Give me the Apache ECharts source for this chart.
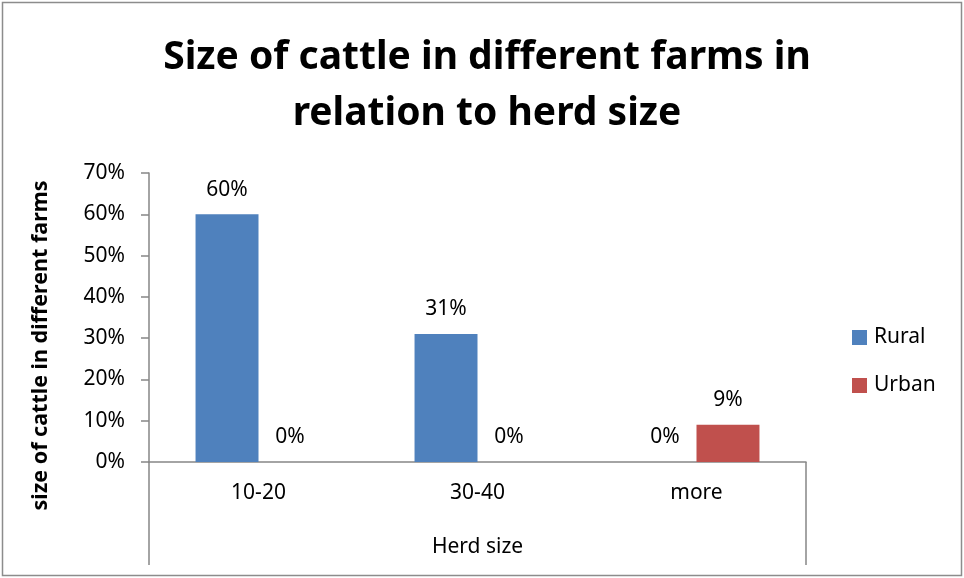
<!DOCTYPE html>
<html>
<head>
<meta charset="utf-8">
<script src="https://cdn.jsdelivr.net/npm/echarts@6/dist/echarts.min.js"></script>
<style>
  html, body { margin: 0; padding: 0; background: #fff; }
  #chart { width: 964px; height: 578px; }
</style>
</head>
<body>
<div id="chart"></div>
<script>
// Herd size groups and the share of cattle in each, by farm location
const categories = ['10-20', '30-40', 'more'];
const rural = [60, 31, 0];
const urban = [0, 0, 9];
const yTicks = { min: 0, max: 70, interval: 10 };

const FONT = '"Noto Sans", "Open Sans", sans-serif';
const AXIS_GREY = '#868686';

const chart = echarts.init(document.getElementById('chart'), null, { renderer: 'canvas' });

const gridLeft = 149, gridRight = 158, gridTop = 173, gridBottom = 116;
const plotRight = 964 - gridRight;
const plotBottom = 578 - gridBottom;

const labelStyle = {
  show: true,
  position: 'top',
  distance: 14,
  formatter: p => p.value + '%',
  color: '#000',
  fontFamily: FONT,
  fontSize: 21
};

chart.setOption({
  backgroundColor: '#fff',
  animation: false,
  title: {
    text: 'Size of cattle in different farms in\nrelation to herd size',
    left: 482,
    textAlign: 'center',
    top: 25,
    textStyle: {
      fontFamily: FONT,
      fontWeight: 'bold',
      fontSize: 39,
      lineHeight: 56,
      color: '#000'
    }
  },
  legend: {
    orient: 'vertical',
    left: 847,
    top: 322,
    itemWidth: 15,
    itemHeight: 15,
    itemGap: 27,
    icon: 'rect',
    textStyle: { fontFamily: FONT, fontSize: 21, color: '#000', padding: [0, 0, 0, 2] },
    data: ['Rural', 'Urban']
  },
  grid: { left: gridLeft, right: gridRight, top: gridTop, bottom: gridBottom, containLabel: false },
  xAxis: {
    type: 'category',
    data: categories,
    name: 'Herd size',
    nameLocation: 'middle',
    nameGap: 75,
    nameTextStyle: { fontFamily: FONT, fontSize: 21, color: '#000' },
    axisLine: { lineStyle: { color: AXIS_GREY, width: 1.5 } },
    axisTick: { show: false },
    axisLabel: { fontFamily: FONT, fontSize: 21, color: '#000', margin: 21 }
  },
  yAxis: {
    type: 'value',
    min: yTicks.min,
    max: yTicks.max,
    interval: yTicks.interval,
    name: 'size of cattle in different farms',
    nameLocation: 'middle',
    nameGap: 97,
    nameRotate: 90,
    nameTextStyle: {
      fontFamily: FONT, fontSize: 21.5, fontWeight: 'bold', color: '#000',
      padding: [0, 56, 0, 0]
    },
    axisLine: { show: true, lineStyle: { color: AXIS_GREY, width: 1.5 } },
    axisTick: { show: true, length: 8, lineStyle: { color: AXIS_GREY, width: 1.5 } },
    splitLine: { show: false },
    axisLabel: {
      fontFamily: FONT, fontSize: 21, color: '#000', margin: 24,
      formatter: v => v + '%'
    }
  },
  series: [
    {
      name: 'Rural',
      type: 'bar',
      data: rural,
      barGap: '0%',
      barCategoryGap: '42.5%',
      itemStyle: { color: '#4F81BD' },
      label: labelStyle
    },
    {
      name: 'Urban',
      type: 'bar',
      data: urban,
      itemStyle: { color: '#C0504D' },
      label: labelStyle
    }
  ],
  graphic: [
    {
      type: 'rect',
      shape: { x: 2.5, y: 2.5, width: 959, height: 573 },
      style: { fill: 'none', stroke: '#8c8c8c', lineWidth: 1.5 },
      silent: true
    },
    {
      type: 'line',
      shape: { x1: gridLeft, y1: plotBottom, x2: gridLeft, y2: 565 },
      style: { stroke: AXIS_GREY, lineWidth: 1.5 },
      silent: true
    },
    {
      type: 'line',
      shape: { x1: plotRight, y1: plotBottom, x2: plotRight, y2: 565 },
      style: { stroke: AXIS_GREY, lineWidth: 1.5 },
      silent: true
    }
  ]
});
</script>
</body>
</html>
